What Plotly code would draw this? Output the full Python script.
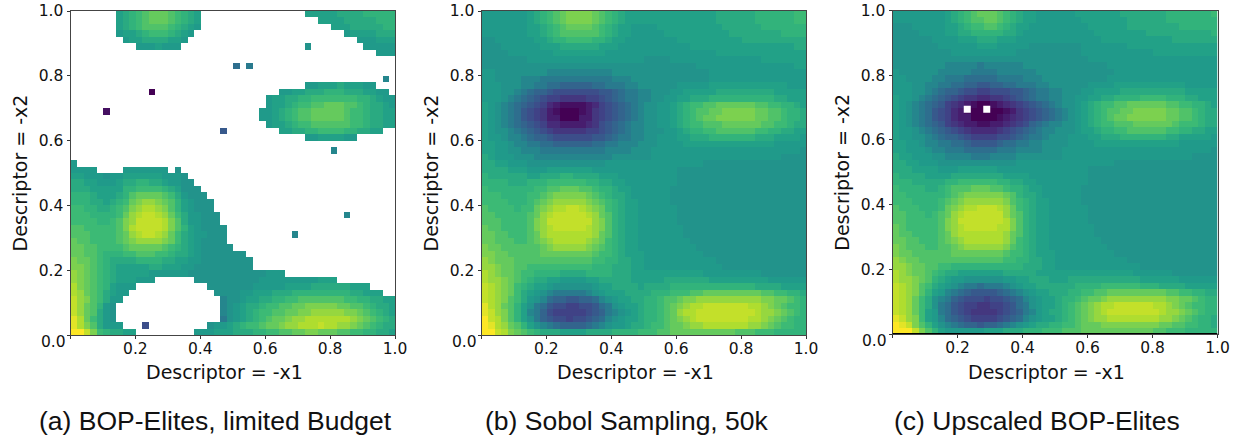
import plotly.graph_objects as go

# Levels are letters A..Z, each standing for a value on the viridis scale; '.' = empty cell.
level_letters = "ABCDEFGHIJKLMNOPQRSTUVWXYZ"
level_values = [0.00, 0.04, 0.08, 0.12, 0.16, 0.20, 0.24, 0.28, 0.32, 0.36, 0.41, 0.46, 0.51,
                0.54, 0.57, 0.61, 0.65, 0.68, 0.72, 0.76, 0.80, 0.84, 0.88, 0.91, 0.96, 1.00]

# All panels: 50 x 50 cells, listed from the top row down.
panel_a_rows = [
    ".......OPQRSTTTSRQPO................OOOOOPPPPQQQQQ",
    ".......OPQRSTTTSRQPO..................OOOOPPPPPQQQ",
    ".......OPQRSSSSRQPON....................OOOPPPPPQQ",
    ".......NOOPQRRRQPON.......................NOOOOPPP",
    "........NOOPPPPOON..........................NNNOOO",
    "..........NNNONNN...................M........NNNNN",
    "...............................................NNN",
    "",
    ".........................J.K",
    "",
    "................................................L",
    "....................................NNOOOPOOONN",
    "............A...................NNOOPPPQQQPPPOONN",
    "..............................NOOPPQQRRRRRRRQQPONN",
    "..............................NOOPQRRSSTTTSSRQPPON",
    ".....B.......................NNOPQRSSTTTTTSRRQPPOO",
    ".............................NNOPQRSSTTTTTSRRQPPOO",
    "..............................NOOPQRRSSSSSSRRQPPOO",
    ".......................H........OOPPQQRRRRQQPPOO",
    "....................................NNOOOONN",
    "",
    "........................................L",
    "",
    "N",
    "NNNN....NNNNNNN.M",
    "OONNNMNNOOOOOONNNM",
    "PPOONNNOPPQQPPONNMM",
    "PPPOOOOOQQRRRRQPOMMM",
    "QQQPOOOPQSTTTTSRPNMMM",
    "QQQPPOPQRTUVVUTSQONMMM",
    "RRQQPPQRSUVWWVUSQONMMM",
    "RRRQQQQRTVWXXWVTRPNNMMM...................L",
    "RRRRQQRSUVXXXXWUSPNNMMM",
    "SSRRRRRSUWXXXXWUSQONMMMM",
    "SSSRRRRSTVWXXWVTRPONNMMM..........L",
    "TSSRRRRSTUVVVVUTRPONMMMM",
    "TTSSRRRRSTTTTTSRQPONMMMMM",
    "TTSSRQQQRRSSSRRQPPONMMMMMMM",
    "UTTSRQPPPPQQQQPPOONNMMMMMMMM",
    "UUTSRQPOOOOOPPOOONNMMMMMMMMM",
    "VUTSRQPOOOOONNNNNNMMMMMMMMMMMMNNN",
    "VUTSRQPOOONNN......MMMMMMMMMMNNNNNNNNNOOO",
    "WUTSRQONNN...........MMMMMMMNNNNNOOOOPPPPPPOOO",
    "WVTSRPONN.............MMMMNNOOOPPPQQQQQQQQQPPOOO",
    "XVUSRPNN...............LMMNOOPPQQRRSSSSSSSRRQQPPOO",
    "XVTSQNM................LMNOPPQRRSSTTUUUUUTTSSRQPPO",
    "XVTSPNM................LMNOPQRRSSTTUUVVVVVUUTSRQPO",
    "YWTRPNM................KMNOPQRSTTUVVWWWWWWWVUTSRQP",
    "YWUSPNNN...G.........MNNOPQRRSTTUVVWWWXWWVVUTSRQPP",
    "ZZXURQPPOO.........NNNOOOPPPQQRRSSTTUUTTTSSRRQQPPO",
]

panel_b_rows = [
    "NNNNNNNOPQ RSTUUUUTSR QPOOOOOOOO OOOOOOPPPP PPQQQQQQRR",
    "NNNNNNNOPQ RSTUUUUTSR QPOOOOOOOO OOOOOOPPPP PPQQQQQQRR",
    "NNNNNNNOOP QRSTTTTSRQ POONNNNOOO OOOOOOOPPP PPPQQQQQQQ",
    "NNNNNNNOOP QRSSSSSSRQ POONNNNNOO OOOOOOOOPP PPPPPPQQQQ",
    "MMNNNNNNOO PQQRRRRQQP OONNNNNNNN OOOOOOOOOO PPPPPPPPPP",
    "MMMNNNNNNO OOPPPPPPOO ONNNNNNNNN NNOOOOOOOO OOOOOOOOPP",
    "MMMMNNNNNN NOOOOOOOON NNNNNNNNNN NNNNNNOOOO OOOOOOOOOO",
    "MMMMMMMNNN NNNNNNNNNN NNNNNMMMMN NNNNNNNNNN NNNOOOOOOO",
    "MMMMMMMMMM MMMMMMMMMM MMMMMMMMMM MMMNNNNNNN NNNNNNNNOO",
    "NNMMMMMMMM LLLLLLLLLL MMMMMMMMMM MMMMMNNNNN NNNNNNNNNN",
    "NNMMMMLLLK KKKKKKKKKK LLLMMMMMMM MMMMMNNNNN NNNNNNNNNN",
    "NNNMMMLLKK JJIIIIIJJK KKLLMMMMMM NNNNNOOOOO OOOOOOONNN",
    "NNNMMLKJII HGGGGGGGHH IJKKLLMMMN NOOOOOPPPP PPPPPOOOOO",
    "NNNMLKJIHG FFEEEEFFGH IJKKLLMMNN OOPPPQQQQQ QQQQQPPOOO",
    "ONMLKJIHGF DCBBBBCDFG HIJKLMMNNO PQRRSSTTTT TTSSRRQQPO",
    "ONMLKJHGFE CBAAABCEFG HIJKLMMNNO PQRSSTTUUU UUTTSSRQQP",
    "ONMLKJHGFE CCAAACCEFG HIJKLMMNNO PQRSTTUUUU UUTTSSRQQP",
    "ONMLKJIHGF DDCCCCDEGH IJKLLMMNNO PQRRSSSTTT TTTSSRRQPP",
    "ONMMLKJIHG FEEEEEFFGH IJKLLMMMNN OPQQRRSSSS SSRRQQPPOO",
    "ONNMLLKJII HGGGGGGHHI JKKLLMMNNN OOPPPQQQQQ QQPPPOOOON",
    "OONNMLLKKJ JIIIIIIJJK KLLLMMMNNN NOOOOOOOOO OOOOONNNNN",
    "OONNMMLLLK KKKKKKKKKL LLLMMMNNNN NNNNNNNNNN NNNNNNNNNM",
    "PONNNMMMLL LLLLLLLLLL MMMMMMNNNN NNNNNNNNNN NNNNNNMMMM",
    "PPOONNNMMM MMMMMMMMMN NNNNNNNNNN NNNNMMMMMM MMMMMMMMMM",
    "PPPPOOONNN OOOOOOONNN NNNNNNNNNN MMMMMMMMMM MMMMMMMMMM",
    "QPPPPPPOOP PPQQPPPPOO ONNNNNNNNN MMMMMMMMMM MMMMMMMMMM",
    "QQQQPPPQQQ RRRRRRQQPP OONNNNNNNN MMMMMMMMMM MMMMMMMMMM",
    "RQQQQQQQRR SSTTTSSRQQ POONNNNNNM MMMMMMMMMM MMMMMMMMMM",
    "RRRQQQQRRS TUUUUUTSRQ PPONNNNNNM MMMMMMMMMM MMMMMMMMMM",
    "RRRRQQQRST UVVVVVUTSR QPOONNNNNM MMMMMMMMMM MMMMMMMMMM",
    "SRRRRQRRTU VWWXXWVUTR QPOONNNNNN MMMMMMMMMM MMMMMMMMMM",
    "SSRRRRRSTV WXXXXXWVTS QPOONNNNNN MMMMMMMMMM MMMMMMMMMM",
    "SSSRRRRSUV XXXXXXXVUS QPOONNNNNN MMMMMMMMMM MMMMMMMMMM",
    "TSSRRRRSUV WXXXXXWVUS QPOONNNNNN NMMMMMMMMM MMMMMMMMMM",
    "TTSSRRRSTV WWWWWWWVTS QPOONNNNNN NMMMMMMMMM MMMMMMMMMM",
    "TTSSSRRSTU VWWWWWVUTR QPOONNNNNN NNMMMMMMMM MMMMMMMMMM",
    "UTTSSSSSST UVVVVVUTSR QPOONNNNNN NNNMMMMMMM MMMMMMMMMM",
    "UUTTSSSSST TTTTTTTSRR QPOOONNNNN NNNNMMMMMM MMMMMMMMMM",
    "VUTTTSSSSS SSSSSSSRRQ QPPOONNNNN NNNNNNMMMM MMMMMMMMMM",
    "VVUTTSSRRR RRRRRRRQQQ PPPOONNNNN NNNNNNNMMM MMMMMMMMMM",
    "WVUTTSRRQQ QQPPPPQQQQ PPPOOOOOOO OOOONNNNNN NNNMMMMMMM",
    "WVVUTSRQPP OONNNNOOPP PPPOOOOOPP PPPPPOOOOO OOOONNNNNN",
    "XWVUTRQPOO NMMMMMMNOO PPPPOPPPPQ QQQQQQQQQQ QQPPPPOOOO",
    "XWVUTRPONM LKKKKKLMNO OOPPPPQQQR RRSSTTTTTT TTTSSRRQQP",
    "XWVUSRPNML JIIHHIIJLM NOOPPQQRSS TUUVVVVVVV VVVUUTTSRQ",
    "YWVTSQOMKJ HGGFFGGHJK MNOOPQQRST UVWWXXXXXX XWWVUTSRRQ",
    "YXVUSQOLKI GFFFFFGHIK LMNOPQQRST VWWXXXXXXX XXWVVUTSRQ",
    "ZXWUSQOMKI HGGFGGHIJL MNOOPQQRST UVWXXXXXXX XWWVUTSRQQ",
    "ZYWVTSQOML KJIIIIJKLM NNOPPQRRST TUVVWWWWWW WVVUTSRRQQ",
    "ZZXWUTSRQP PPOOOOPPPP QQQQRRRSST TTTTTTTTTS SSRRRQQQQQ",
]

panel_c_rows = [
    "NNNNNNNNOP QRSTTTSRQP OONNNNNNOO OOOOOPPPPP PPQQQQQQQR",
    "NNNNNNNNOP QRSSTTSRQP OONNNNNNNO OOOOOOPPPP PPQQQQQQQQ",
    "MMMNNNNNOO PQRRSSRQPO ONNNNNNNNN OOOOOOPPPP PPPPQQQQQQ",
    "MMMMNNNNOO PPQQQQQPPO NNNNNNNNNN NOOOOOOOOP PPPPPPPPPQ",
    "MMMMMMNNNN OOOPPPOOON NNNNNNNNNN NNOOOOOOOO OOOPPPPPPP",
    "MMMMMMMNNN NNNOOONNNN NMMMMMMMMN NNNNNNOOOO OOOOOOOOOO",
    "MMMMMMMMMN NNNNNNNNNM MMMMMMMMMN NNNNNNNNNN OOOOOOOOOO",
    "MMMMMMMMMM MMMMMMMMMM MMMMMMMMMM NNNNNNNNNN NNNNNNNNNN",
    "MMMMMMMMLL LLLKLLLLLL MMMMMMMMMM MMMNNNNNNN NNNNNNNNNN",
    "NMMMMMMLLL LLKKKKLLLL LLMMMMMMMM MMMMNNNNNN NNNNNNNNNN",
    "NNMMMMLLKK KJJJJJKKKK LLLMMMMMMM MMMNNNNNNN NNNNNNNNNN",
    "NNNMMLLKKJ JIIHHIIJJK KKLLMMMMMM NNNNOOOOOO OOOOONNNNN",
    "NNNMMLKJII HGGFFGGGHH IJKKLLMMMN NOOOOPPPPP PPPPPOOOOO",
    "ONNMLKJIHG FEEDDEEFGH IJKKLLMMNN OOPPQQQQRR RRQQQPPOOO",
    "ONMLKJIHFE DCBAABCDEF GHIJKLMMNO PQRRSSTTTT TTSSRRQQPO",
    "ONMLKJHGFD CBAAAAABCE FGHIJKLMNO PQRSSTTUUU UUTTSSRQPP",
    "ONMLKJHGFD CCAAAABCDE FGHIJKLMNO PQRSTTUUUU UUTTSSRQPP",
    "ONMLKJIHFE DCCBBCCDEF GIJKLLMMNO PQRRSSSTTT TTTSRRRQPP",
    "ONNMLKJIHG FEDDDDEFGH IJKLLMMMNO OPQQRRSSSS SSRRQQPPOO",
    "ONNMMLKJII HGFFFFGGHI JKKLMMMNNN OOPPPQQQQQ QQPPOOOOON",
    "OONNMLLKKJ JIHHHHIJJK KLLMMMMNNN NOOOOOOOOO OOOONNNNNN",
    "OONNNMLLKK KJJJJJKKKL LLLMMMNNNN NNNNNNNNNN NNNNNNNNNM",
    "POONNNMMLL LLKKKLLLLM MMMMMMNNNN NNNNNNNNNN NNNNNNMMMM",
    "PPOONNNMMM MMMMMMMMMN NNNNNNNNNN NNNNMMMMMM MMMMMMMMMM",
    "PPPOOOONNN OOOOOONNNN NNNNNNNNNN MMMMMMMMMM MMMMMMMMMM",
    "QPPPPOOOOP PPPPPPPOOO ONNNNNNNNN MMMMMMMMMM MMMMMMMMMM",
    "QQQPPPPPQQ RRRRRRQQPP OONNNNNNNN MMMMMMMMMM MMMMMMMMMM",
    "RQQQQPPQRS SSTTTSSRQQ POONNNNNNM MMMMMMMMMM MMMMMMMMMM",
    "RRQQQQQQRS TUUUUUUTSQ PPONNNNNNM MMMMMMMMMM MMMMMMMMMM",
    "RRRQQQQRST UVVVVVVUSR QPOONNNNNM MMMMMMMMMM MMMMMMMMMM",
    "SRRRQQQRTU VWWXXXWVTR QPOONNNNNN MMMMMMMMMM MMMMMMMMMM",
    "SSRRRQRSTV WXXXXXXVTS QPOONNNNNN MMMMMMMMMM MMMMMMMMMM",
    "SSRRRRRSUV XXXXXXXWUS QPOONNNNNN MMMMMMMMMM MMMMMMMMMM",
    "TSRRRRRSUV WXXXXXWWUS QPOONNNNNN NMMMMMMMMM MMMMMMMMMM",
    "TSSRRRRSTV WWWWWWWVTS QPOONNNNNN NMMMMMMMMM MMMMMMMMMM",
    "TTSSRRRSTU VWWWWWWVTR QPOONNNNNN NNMMMMMMMM MMMMMMMMMM",
    "UTSSSRRSST UVVVVVVUSR QPOONNNNNN NNNMMMMMMM MMMMMMMMMM",
    "UTTSSSSSST TTTTTTTSRR QPOOONNNNN NNNNMMMMMM MMMMMMMMMM",
    "VUTTSSSSSS SSSSSSSRRQ QPPOONNNNN NNNNNNMMMM MMMMMMMMMM",
    "VVUTTSSRRQ QQQQQQQQQQ PPPOONNNNN NNNNNNNNMM MMMMMMMMMM",
    "WVUTTSRQPP OOOOOOOPPP PPOOOOOOOO OOOOOOONNN NNNMMMMMMM",
    "WVVUTSQPON NMMMMMMNNO OPPPOOOPPP PPPPPPPPOO OOOONNNNNN",
    "XWVUSRPONM LKKJKKKLMN OOPPPPPPQQ QQRRRRRRQQ QPPPPOOOOO",
    "XWVUSQONLK JIHHHHIJKL MNOOPPPQQR RSSTTTTTTT TTSSRRQQPP",
    "XWVTRPMLKI HGGGFGGHIJ LMNOOPQQRS TTUVVVVVVV VVUUTTSRQQ",
    "XWVTRPMKJH GFFEEFFGHJ KMNOOPQRST UVWWXXXXXX WWVUTSRRQQ",
    "XWVTRONKJH GFEEEEFGHI KLNOPPQRST UVWXXXXXXX XWVVUTSRQQ",
    "YXVURONLJI HGFFFFGHIJ LMNOOPQRST UVVWWWWWWW WVVUTSRQQP",
    "ZYXUSQOMLK JIIHIIJKLM NOPPQQRRST TTUUUUUUUU UTTSSRRQQP",
    "ZZZXUSQONN NNNNOOOPPP QQQRRRSSST TTTTTTTTTT SSRRRQQQQQ",
]

# Two empty cells inside the dark basin of panel (c)
empty_c_x = [0.23, 0.29]
empty_c_y = [0.695, 0.695]

tick_vals = [0.0, 0.2, 0.4, 0.6, 0.8, 1.0]
x_tick_text = ["", "0.2", "0.4", "0.6", "0.8", "1.0"]
y_tick_text = ["", "0.2", "0.4", "0.6", "0.8", "1.0"]
x_title = "Descriptor = -x1"
y_title = "Descriptor = -x2"
captions = ["(a) BOP-Elites, limited Budget", "(b) Sobol Sampling, 50k", "(c) Upscaled BOP-Elites"]

W, H = 1233, 435
N = 50
PANELS = [(70.5, 395.0, 11.0, 335.0), (481.5, 806.0, 11.0, 335.0), (892.5, 1217.5, 10.5, 334.0)]
CAPTION_X = [215, 626.5, 1037]
X_TITLE_X = [224.5, 635.5, 1046.5]
LEVELS = dict(zip(level_letters, level_values))


def decode(rows):
    z = []
    for row in rows:
        row = row.replace(" ", "").ljust(N, ".")[:N]
        z.append([LEVELS.get(ch) for ch in row])
    return z[::-1]


cell_centres = [(i + 0.5) / N for i in range(N)]

fig = go.Figure()
for i, rows in enumerate([panel_a_rows, panel_b_rows, panel_c_rows]):
    suffix = "" if i == 0 else str(i + 1)
    fig.add_trace(go.Heatmap(
        z=decode(rows), x=cell_centres, y=cell_centres,
        colorscale="Viridis", zmin=0, zmax=1, showscale=False,
        hoverongaps=False, xaxis="x" + suffix, yaxis="y" + suffix,
    ))

fig.add_trace(go.Scatter(
    x=empty_c_x, y=empty_c_y, mode="markers", xaxis="x3", yaxis="y3",
    marker=dict(symbol="square", size=7, color="white"), showlegend=False,
))

tick_font = dict(family="DejaVu Sans", size=15.5, color="#111111")
title_font = dict(family="DejaVu Sans", size=19, color="#111111")
annotations = []
layout = dict(
    width=W, height=H, autosize=False, showlegend=False,
    margin=dict(l=0, r=0, t=0, b=0, autoexpand=False), paper_bgcolor="white", plot_bgcolor="white",
)
for i, (x0, x1, y0, y1) in enumerate(PANELS):
    suffix = "" if i == 0 else str(i + 1)
    layout["xaxis" + suffix] = dict(
        domain=[x0 / W, x1 / W], range=[0, 1], anchor="y" + suffix, automargin=False,
        tickmode="array", tickvals=tick_vals, ticktext=x_tick_text,
        ticks="outside", ticklen=3, tickwidth=1, tickcolor="#333333",
        tickfont=tick_font, showgrid=False, zeroline=False, ticklabelstandoff=-4,
        showline=True, mirror=True, linecolor="#444444", linewidth=1,
    )
    layout["yaxis" + suffix] = dict(
        domain=[1 - y1 / H, 1 - y0 / H], range=[0, 1], anchor="x" + suffix, automargin=False,
        tickmode="array", tickvals=tick_vals, ticktext=y_tick_text,
        ticks="outside", ticklen=3, tickwidth=1, tickcolor="#333333",
        tickfont=tick_font, showgrid=False, zeroline=False,
        showline=True, mirror=True, linecolor="#444444", linewidth=1,
        title=dict(text=y_title, font=title_font, standoff=6),
    )
    annotations.append(dict(
        text=x_title, xref="paper", yref="paper", x=X_TITLE_X[i] / W, y=1 - 372 / H,
        xanchor="center", yanchor="middle", showarrow=False, font=title_font,
    ))
    annotations.append(dict(
        text="0.0", xref="paper", yref="paper", x=(x0 - 3) / W, y=1 - (y1 + 7) / H,
        xanchor="right", yanchor="middle", showarrow=False, font=tick_font,
    ))
    annotations.append(dict(
        text=captions[i], xref="paper", yref="paper", x=CAPTION_X[i] / W, y=1 - 421 / H,
        xanchor="center", yanchor="middle", showarrow=False,
        font=dict(family="Liberation Sans", size=26.5, color="#111111"),
    ))
layout["annotations"] = annotations
# Heavier lower edge on panel (c)
layout["shapes"] = [dict(type="line", xref="x3", yref="y3", x0=0, x1=1, y0=0, y1=0,
                         line=dict(color="black", width=2))]
fig.update_layout(**layout)
# Remove the page's default body margin so the fixed-size figure sits at the window's corner.
fig.write_html("out.html", config={"displayModeBar": False},
               post_script="document.body.style.margin='0';")
